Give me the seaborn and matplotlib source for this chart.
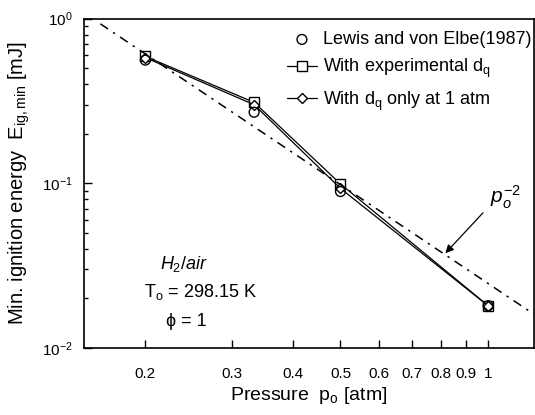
import matplotlib
matplotlib.use("Agg")
import matplotlib.pyplot as plt
import seaborn as sns
import pandas as pd
from matplotlib.ticker import FixedLocator, FixedFormatter, LogLocator, NullFormatter

# data
pressure = [0.2, 1 / 3, 0.5, 1.0]
lewis = [0.56, 0.27, 0.089, 0.018]
exp_dq = [0.59, 0.31, 0.099, 0.018]
dq_1atm = [0.58, 0.30, 0.093, 0.018]

# p^-2 reference line end points
ref_p = [0.162, 1.24]
ref_e = [0.93, 0.0160]

xticks = [0.2, 0.3, 0.4, 0.5, 0.6, 0.7, 0.8, 0.9, 1.0]
xticklabels = ["0.2", "0.3", "0.4", "0.5", "0.6", "0.7", "0.8", "0.9", "1"]

sns.set_style("ticks")
plt.rcParams['font.family'] = ['Liberation Sans', 'DejaVu Sans']
plt.rcParams['mathtext.fontset'] = 'custom'
plt.rcParams['mathtext.rm'] = 'Liberation Sans'
plt.rcParams['mathtext.it'] = 'Liberation Sans:italic'
plt.rcParams['mathtext.sf'] = 'Liberation Sans'
for k in ['text.color', 'axes.labelcolor', 'xtick.color', 'ytick.color', 'axes.edgecolor']:
    plt.rcParams[k] = 'black'

fig = plt.figure(figsize=(5.35, 4.15), dpi=100)
ax = fig.add_axes([0.157, 0.162, 0.841, 0.793])

df = pd.DataFrame({'p': pressure, 'lewis': lewis, 'exp': exp_dq, 'one': dq_1atm})

sns.lineplot(data=df, x='p', y='exp', ax=ax, color='black', lw=0.9,
             marker='s', markersize=7, markerfacecolor='white',
             markeredgecolor='black', markeredgewidth=1,
             label='With experimental d$_{\\mathrm{q}}$')
sns.lineplot(data=df, x='p', y='one', ax=ax, color='black', lw=0.9,
             marker='D', markersize=5, markerfacecolor='white',
             markeredgecolor='black', markeredgewidth=1,
             label='With d$_{\\mathrm{q}}$ only at 1 atm')
sns.scatterplot(data=df, x='p', y='lewis', ax=ax, marker='o', s=50,
                facecolor='none', edgecolor='black', linewidth=1,
                label='Lewis and von Elbe(1987)', zorder=3)
ax.plot(ref_p, ref_e, color='black', lw=1.1, linestyle=(0, (6, 4, 1.5, 4)))

ax.set_xscale('log')
ax.set_yscale('log')
ax.set_xlim(0.150, 1.24)
ax.set_ylim(0.01, 1.0)

ax.xaxis.set_major_locator(FixedLocator(xticks))
ax.xaxis.set_major_formatter(FixedFormatter(xticklabels))
ax.xaxis.set_minor_locator(FixedLocator([]))
ax.yaxis.set_major_locator(LogLocator(base=10))
ax.yaxis.set_minor_locator(LogLocator(base=10, subs=range(2, 10)))
ax.yaxis.set_minor_formatter(NullFormatter())
ax.tick_params(which='both', direction='in', labelsize=11, width=1)
ax.tick_params(which='major', length=6)
ax.tick_params(which='minor', length=3)
ax.tick_params(axis='x', pad=14)
ax.tick_params(axis='y', pad=8)
for s in ax.spines.values():
    s.set_linewidth(1.2)

ax.set_xlabel('Pressure  p$_{\\mathrm{o}}$ [atm]', fontsize=14, labelpad=3)
ax.set_ylabel('Min. ignition energy  E$_{\\mathrm{ig,min}}$ [mJ]', fontsize=14.5, labelpad=7)

handles, labels = ax.get_legend_handles_labels()
order = [2, 0, 1]
ax.legend([handles[i] for i in order], [labels[i] for i in order],
          loc='upper right', frameon=False, fontsize=13,
          handlelength=1.7, handletextpad=0.3, labelspacing=0.5,
          borderaxespad=0.2, bbox_to_anchor=(1.018, 0.995))

ax.annotate('', xy=(0.811, 0.0365), xytext=(0.985, 0.068),
            arrowprops=dict(arrowstyle='-|>', color='black', lw=0.9,
                            mutation_scale=12))
ax.text(1.085, 0.082, '$\\mathit{p}_{\\mathit{o}}^{-2}$', fontsize=15,
        ha='center', va='center')

ax.text(0.240, 0.0322, '$\\mathit{H}_{2}$/$\\mathit{air}$', fontsize=13,
        ha='center', va='center')
ax.text(0.259, 0.0217, 'T$_{\\mathrm{o}}$ = 298.15 K', fontsize=13,
        ha='center', va='center')
ax.text(0.242, 0.0145, '\u03d5 = 1', fontsize=13, ha='center', va='center')

fig.savefig('out.png', dpi=100)
